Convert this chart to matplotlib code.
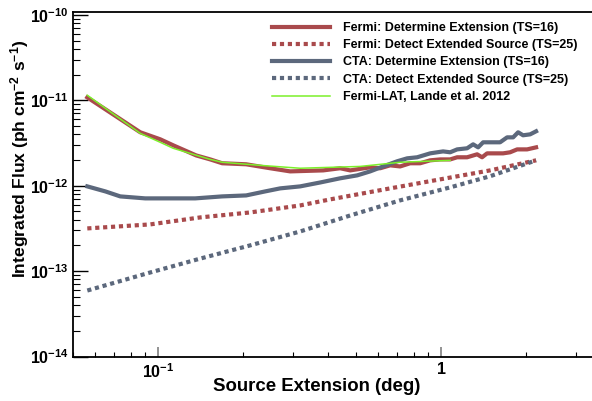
import matplotlib
matplotlib.use("Agg")
import matplotlib.pyplot as plt
from matplotlib.ticker import LogLocator, FuncFormatter, NullFormatter

plt.rcParams['font.family'] = ['Liberation Sans', 'DejaVu Sans']
plt.rcParams['font.weight'] = 'bold'
plt.rcParams['mathtext.fontset'] = 'custom'
plt.rcParams['mathtext.rm'] = 'Liberation Sans:bold'
plt.rcParams['mathtext.bf'] = 'Liberation Sans:bold'
plt.rcParams['mathtext.it'] = 'Liberation Sans:bold'
plt.rcParams['mathtext.default'] = 'rm'

# Fermi: Determine Extension (TS=16)
fermi_det_x = [0.0563, 0.0866, 0.1019, 0.1132, 0.1365, 0.153, 0.1686, 0.2049, 0.249, 0.2931,
               0.3833, 0.44, 0.4774, 0.5616, 0.6091, 0.6607, 0.7165, 0.7772, 0.8432, 0.9145,
               0.9919, 1.076, 1.139, 1.235, 1.340, 1.395, 1.453, 1.577, 1.655, 1.752,
               1.855, 2.012, 2.164]
fermi_det_y = [1.08e-11, 4.22e-12, 3.49e-12, 2.97e-12, 2.26e-12, 2.03e-12, 1.83e-12, 1.78e-12, 1.60e-12, 1.47e-12,
               1.51e-12, 1.60e-12, 1.51e-12, 1.64e-12, 1.60e-12, 1.73e-12, 1.68e-12, 1.83e-12, 1.83e-12, 1.98e-12,
               2.03e-12, 2.03e-12, 2.15e-12, 2.15e-12, 2.33e-12, 2.15e-12, 2.39e-12, 2.39e-12, 2.39e-12, 2.46e-12,
               2.66e-12, 2.66e-12, 2.81e-12]

# Fermi: Detect Extended Source (TS=25)
fermi_ext_x = [0.0563, 0.0939, 0.141, 0.2117, 0.3178, 0.4057, 0.6607, 1.041, 1.489, 2.164]
fermi_ext_y = [3.16e-13, 3.52e-13, 4.25e-13, 4.86e-13, 5.87e-13, 6.91e-13, 9.30e-13, 1.22e-12, 1.51e-12, 1.98e-12]

# CTA: Determine Extension (TS=16)
cta_det_x = [0.0563, 0.0652, 0.0736, 0.0902, 0.1105, 0.1354, 0.1686, 0.2049, 0.2392, 0.2702,
             0.3178, 0.374, 0.44, 0.5052, 0.5616, 0.6241, 0.6993, 0.7586, 0.8228, 0.9145,
             1.016, 1.076, 1.139, 1.235, 1.297, 1.351, 1.407, 1.489, 1.615, 1.710,
             1.796, 1.870, 1.947, 2.062, 2.164]
cta_det_y = [9.81e-13, 8.57e-13, 7.49e-13, 7.10e-13, 7.10e-13, 7.10e-13, 7.49e-13, 7.69e-13, 8.57e-13, 9.30e-13,
             9.81e-13, 1.09e-12, 1.22e-12, 1.32e-12, 1.47e-12, 1.68e-12, 1.93e-12, 2.09e-12, 2.15e-12, 2.39e-12,
             2.52e-12, 2.46e-12, 2.66e-12, 2.74e-12, 3.05e-12, 2.81e-12, 3.22e-12, 3.22e-12, 3.22e-12, 3.68e-12,
             3.68e-12, 4.22e-12, 3.89e-12, 3.99e-12, 4.33e-12]

# CTA: Detect Extended Source (TS=25)
cta_ext_x = [0.0563, 0.0939, 0.141, 0.2117, 0.3178, 0.4774, 0.7165, 1.076, 1.489, 2.164]
cta_ext_y = [5.92e-14, 9.63e-14, 1.40e-13, 2.00e-13, 2.91e-13, 4.48e-13, 6.73e-13, 9.55e-13, 1.29e-12, 1.98e-12]

# Fermi-LAT, Lande et al. 2012
lande_x = [0.0563, 0.0866, 0.1019, 0.1132, 0.153, 0.1686, 0.2297, 0.3178, 0.5176, 0.7165, 1.076]
lande_y = [1.145e-11, 4.10e-12, 3.22e-12, 2.74e-12, 2.03e-12, 1.88e-12, 1.73e-12, 1.60e-12, 1.68e-12, 1.88e-12, 1.98e-12]

labels = ["Fermi: Determine Extension (TS=16)",
          "Fermi: Detect Extended Source (TS=25)",
          "CTA: Determine Extension (TS=16)",
          "CTA: Detect Extended Source (TS=25)",
          "Fermi-LAT, Lande et al. 2012"]

red = '#a94a4c'
blue = '#5c687c'
green = '#7cf02a'

fig = plt.figure(figsize=(5.92, 4.01), dpi=100)
ax = fig.add_axes([72.7 / 592, 1 - 356.5 / 401, 1 - 72.7 / 592, (356.5 - 12) / 401])

ax.plot(fermi_det_x, fermi_det_y, color=red, lw=3.0, label=labels[0], solid_joinstyle='round')
ax.plot(fermi_ext_x, fermi_ext_y, color=red, lw=3.0, dashes=(1, 0.9), dash_capstyle='butt', label=labels[1])
ax.plot(cta_det_x, cta_det_y, color=blue, lw=3.0, label=labels[2], solid_joinstyle='round')
ax.plot(cta_ext_x, cta_ext_y, color=blue, lw=3.0, dashes=(1, 0.9), dash_capstyle='butt', label=labels[3])
ax.plot(lande_x, lande_y, color=green, lw=1.1, label=labels[4])

ax.set_xscale('log')
ax.set_yscale('log')
ax.set_xlim(0.05, 3.41)
ax.set_ylim(1e-14, 1.08e-10)

def fmt(v, pos):
    import math
    e = int(round(math.log10(v)))
    if e == 0:
        return '1'
    return r'$10^{%d}$' % e

ax.xaxis.set_major_locator(LogLocator(base=10, numticks=10))
ax.xaxis.set_minor_locator(LogLocator(base=10, subs=range(2, 10), numticks=20))
ax.yaxis.set_major_locator(LogLocator(base=10, numticks=10))
ax.yaxis.set_minor_locator(LogLocator(base=10, subs=range(2, 10), numticks=20))
ax.xaxis.set_major_formatter(FuncFormatter(fmt))
ax.yaxis.set_major_formatter(FuncFormatter(fmt))
ax.xaxis.set_minor_formatter(NullFormatter())
ax.yaxis.set_minor_formatter(NullFormatter())

ax.tick_params(axis='both', which='both', direction='in', top=False, right=False, labelsize=11.5)
ax.tick_params(axis='y', which='major', length=11, width=1.0, pad=3)
ax.tick_params(axis='y', which='minor', length=5, width=0.8)
ax.tick_params(axis='x', which='major', length=7, width=1.2, color='#808080', pad=4)
ax.tick_params(axis='x', which='minor', length=3.5, width=0.8)

for s in ['left', 'bottom', 'top']:
    ax.spines[s].set_linewidth(1.3)
ax.spines['right'].set_visible(False)

ax.set_xlabel('Source Extension (deg)', fontsize=13.4, fontweight='bold')
ax.xaxis.set_label_coords((317 - 72.7) / 519.3, -(378 - 356.5) / 344.5)
ax.set_ylabel(r'Integrated Flux (ph cm$^{-2}$ s$^{-1}$)', fontsize=12.6, fontweight='bold')
ax.yaxis.set_label_coords(-(72.7 - 31) / 519.3, (356.5 - 158.5) / 344.5)

leg = fig.legend(loc='upper left', bbox_to_anchor=(272 / 592, 1 - 22 / 401), frameon=False,
                 prop={'size': 9, 'weight': 'bold'}, handlelength=4.64, handletextpad=1.04,
                 labelspacing=0.42, borderpad=0, borderaxespad=0)

fig.savefig('out.png', dpi=100)
